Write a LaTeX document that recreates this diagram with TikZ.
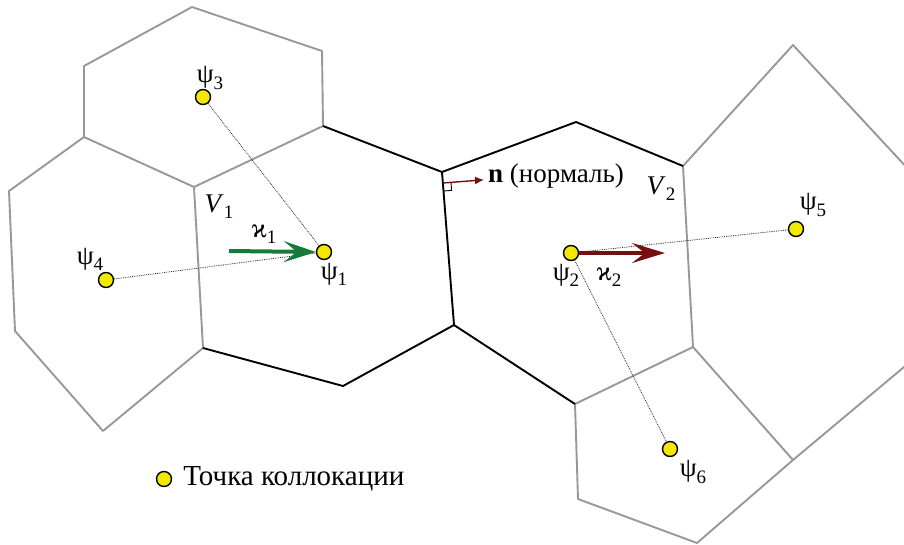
\documentclass[tikz,border=0pt]{standalone}
\usepackage{fontspec}
\setmainfont{Liberation Serif}
\usetikzlibrary{arrows.meta,positioning}
\definecolor{dotyellow}{RGB}{242,232,0}
\definecolor{arrgreen}{RGB}{22,122,58}
\definecolor{arrred}{RGB}{118,16,16}
\definecolor{cellgray}{RGB}{152,152,152}
\newcommand\lblsub[2]{#1\raisebox{-0.5ex}{\fontsize{19}{19}\selectfont #2}}
\tikzset{
  cell/.style={cellgray,line width=1.9pt,line join=round},
  own/.style={black,line width=1.9pt,line join=round},
  dot/.style={circle,draw=black,line width=1.4pt,fill=dotyellow,minimum size=15pt,inner sep=0pt},
  link/.style={densely dotted,line width=0.8pt,black!85},
  lbl/.style={font=\fontsize{27}{29}\selectfont,inner sep=0pt},
}
\begin{document}
\begin{tikzpicture}[x=1pt,y=-1pt,>=latex]
	\useasboundingbox (0,0) rectangle (904,544);
	\clip (0,0) rectangle (904,544);
	% neighbouring cells
	\draw[cell] (84,137)--(84,66)--(192,7)--(322,51)--(323,126);
	\draw[cell] (84,137)--(194,187)--(323,126);
	\draw[cell] (84,137)--(9,191)--(15,331)--(103,431)--(203,348)--(194,187);
	\draw[cell] (683,166)--(793,45)--(910,171);
	\draw[cell] (683,166)--(693,347)--(575,404)--(578,499)--(697,543)--(793,460)--(693,347);
	\draw[cell] (793,460)--(910,362);
	% cells V1 and V2
	\draw[own] (323,126)--(442,172)--(454,325)--(343,386)--(203,348);
	\draw[own] (442,172)--(576,122)--(683,166);
	\draw[own] (454,325)--(575,404);
	% collocation points
	\node[dot] (p1) at (324,252) {};
	\node[dot] (p2) at (571,253) {};
	\node[dot] (p3) at (203,97) {};
	\node[dot] (p4) at (106,280) {};
	\node[dot] (p5) at (796,229) {};
	\node[dot] (p6) at (670,449) {};
	\draw[link] (p3)--(p1);
	\draw[link] (p4)--(p1);
	\draw[link] (p2)--(p5);
	\draw[link] (p2)--(p6);
	\node[lbl] (l1) at (334,274) {\lblsub{ψ}{1}};
	\node[lbl] (l2) at (566,275) {\lblsub{ψ}{2}};
	\node[lbl] (l3) at (210,78) {\lblsub{ψ}{3}};
	\node[lbl] (l4) at (90,259) {\lblsub{ψ}{4}};
	\node[lbl] (l5) at (813,205) {\lblsub{ψ}{5}};
	\node[lbl] (l6) at (693,472) {\lblsub{ψ}{6}};
	\node[lbl] (v1) at (219,207) {\lblsub{\textit{V}}{1}};
	\node[lbl] (v2) at (661,189) {\lblsub{\textit{V}}{2}};
	% fluxes
	\coordinate (k1s) at (229,251);
	\coordinate (k2e) at (665,253);
	\draw[arrgreen,line width=4pt,-{Stealth[length=32pt,width=21pt,inset=13pt]}] (k1s)--(p1.west);
	\draw[arrred,line width=4pt,-{Stealth[length=33pt,width=20pt,inset=13pt]}] (p2.east)--(k2e);
	\node[lbl] (k1) at (264,234) {\lblsub{ϰ}{1}};
	\node[lbl] (k2) at (609,277) {\lblsub{ϰ}{2}};
	% normal
	\coordinate (nb) at (443,183);
	\coordinate (ne) at (484,179.8);
	\draw[line width=0.9pt] (443.6,191)--(451.6,190.4)--(451,182.4);
	\draw[arrred,line width=1.4pt,-{Latex[length=9pt,width=8pt]}] (nb)--(ne);
	\node[lbl,anchor=west] (nlab) at (488,176) {\textbf{n} (нормаль)};
	% legend
	\node[dot] (key) at (164,479) {};
	\node[lbl,font=\fontsize{29}{31}\selectfont,right=11pt of key] (keytxt) {Точка коллокации};
\end{tikzpicture}
\end{document}
